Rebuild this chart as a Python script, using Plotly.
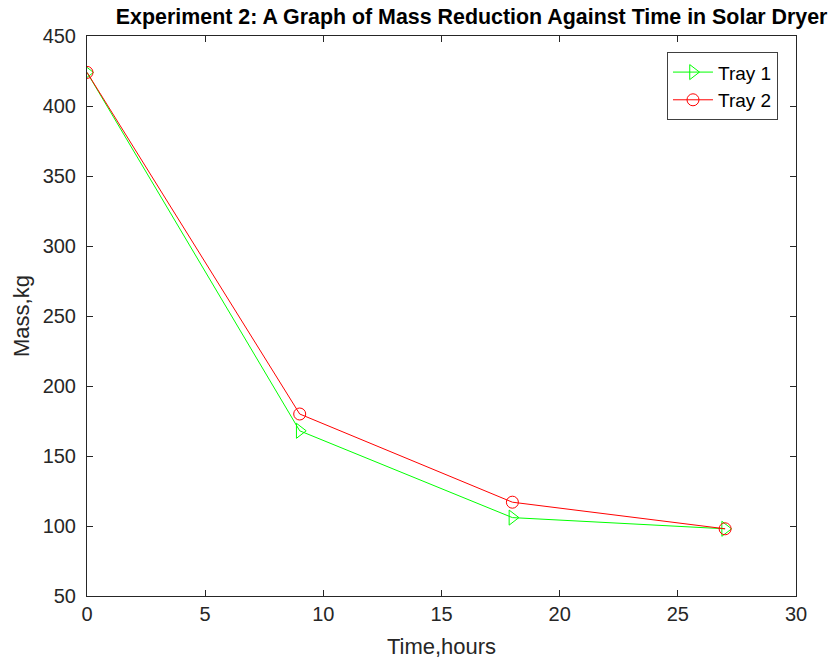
import plotly.graph_objects as go

time_hours = [0, 9, 18, 27]
tray1_mass = [424, 168, 106, 98]
tray2_mass = [424, 180, 117, 98]
x_ticks = [0, 5, 10, 15, 20, 25, 30]
y_ticks = [50, 100, 150, 200, 250, 300, 350, 400, 450]

FONT = "Liberation Sans, Arial, Helvetica"

fig = go.Figure()
fig.add_trace(go.Scatter(x=time_hours, y=tray1_mass, mode="lines+markers", name="Tray 1",
                         line=dict(color="#00ff00", width=1),
                         marker=dict(symbol="triangle-right-open", size=13, color="#00ff00", line=dict(width=1))))
fig.add_trace(go.Scatter(x=time_hours, y=tray2_mass, mode="lines+markers", name="Tray 2",
                         line=dict(color="#ff0000", width=1),
                         marker=dict(symbol="circle-open", size=12, color="#ff0000", line=dict(width=1))))

axis_common = dict(showgrid=False, zeroline=False, showline=True, linecolor="#262626", linewidth=1,
                   mirror="ticks", ticks="inside", ticklen=6, tickcolor="#262626",
                   tickfont=dict(family=FONT, size=20, color="#262626"))
fig.update_xaxes(range=[0, 30], tickvals=x_ticks, ticktext=[str(v) for v in x_ticks],
                 title=dict(text="Time,hours", font=dict(family=FONT, size=22, color="#262626"), standoff=14),
                 **axis_common)
fig.update_yaxes(range=[50, 450], tickvals=y_ticks, ticktext=[str(v) for v in y_ticks],
                 ticklabelstandoff=6,
                 title=dict(text="Mass,kg", font=dict(family=FONT, size=22, color="#262626"), standoff=6),
                 **axis_common)

fig.update_layout(
    width=837, height=661,
    margin=dict(l=87, r=41, t=36, b=65, autoexpand=False),
    paper_bgcolor="white", plot_bgcolor="white",
    title=dict(text="<b>Experiment 2: A Graph of Mass Reduction Against Time in Solar Dryer</b>",
               x=0.5635, xanchor="center", y=0.9743, yanchor="middle",
               font=dict(family=FONT, size=21.4, color="black")),
    legend=dict(x=0.9746, y=0.971, xanchor="right", yanchor="top", bgcolor="white",
                bordercolor="#404040", borderwidth=1,
                font=dict(family=FONT, size=19, color="black"),
                tracegroupgap=0, itemwidth=40),
    showlegend=True,
)
fig.write_html("out.html", config={"displayModeBar": False},
               post_script="document.body.style.margin='0';")
